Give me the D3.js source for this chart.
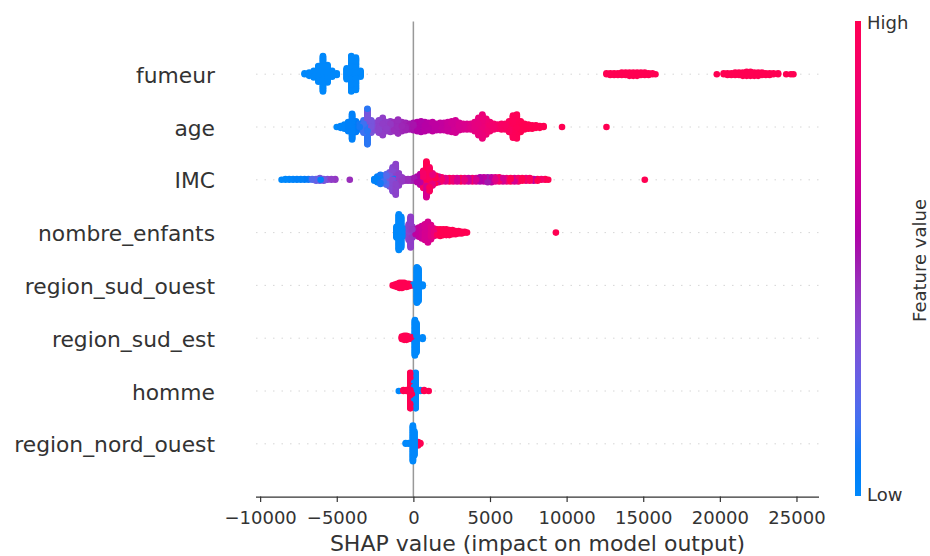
<!DOCTYPE html>
<html>
<head>
<meta charset="utf-8">
<script src="https://cdn.jsdelivr.net/npm/d3@7"></script>
<style>
  html, body { margin: 0; padding: 0; background: #fff; }
  svg { display: block; font-family: "DejaVu Sans", sans-serif; }
</style>
</head>
<body>
<svg id="chart" width="930" height="556"></svg>
<script>
// ---------------- DATA ----------------
// Feature names, top to bottom
const features = ["fumeur", "age", "IMC", "nombre_enfants", "region_sud_ouest", "region_sud_est", "homme", "region_nord_ouest"];

// Each entry: [SHAP value, normalised feature value (0 = low, 1 = high), number of points]
const fumeurPts = [
  [-7100,0,2],[-6800,0,5],[-6500,0,9],[-6200,0,20],[-5900,0,44],[-5600,0,22],[-5300,0,8],[-5000,0,3],
  [-4350,0,14],[-4050,0,44],[-3750,0,40],[-3450,0,8],
  [12600,1,2],[12850,1,3],[13100,1,3],[13350,1,3],[13600,1,4],[13850,1,4],[14100,1,5],[14350,1,5],
  [14600,1,5],[14850,1,4],[15100,1,4],[15350,1,3],[15600,1,2],[15800,1,1],
  [19800,1,1],[20250,1,2],[20500,1,3],[20750,1,3],[21000,1,4],[21250,1,4],[21500,1,5],[21750,1,6],
  [22000,1,6],[22250,1,5],[22500,1,5],[22750,1,4],[23000,1,3],[23250,1,3],[23500,1,2],[23800,1,2],
  [24330,1,1],[24630,1,1],[24800,1,1]
];
const agePts = [
  [-5000,0.0,1],[-4750,0.02,3],[-4500,0.03,6],[-4250,0.05,12],[-4000,0.05,32],[-3750,0.08,14],[-3500,0.1,8],
  [-3250,0.15,16],[-3000,0.12,24],[-3000,0.3,20],[-2750,0.3,16],[-2500,0.35,10],[-2250,0.38,16],[-2000,0.4,22],
  [-1750,0.4,12],[-1500,0.42,14],[-1250,0.45,12],[-1000,0.45,18],[-750,0.47,12],[-500,0.48,10],[-250,0.5,8],
  [0,0.52,10],[250,0.55,12],[500,0.55,14],[750,0.57,12],[1000,0.58,10],[1250,0.6,12],[1500,0.6,9],
  [1750,0.62,10],[2000,0.63,10],[2250,0.65,12],[2500,0.67,14],[2750,0.68,16],[3000,0.7,10],[3250,0.72,8],
  [3500,0.73,8],[3750,0.75,8],[4000,0.78,12],[4250,0.8,22],[4500,0.82,30],[4750,0.85,20],[5000,0.87,12],
  [5250,0.88,8],[5500,0.9,6],[5750,0.92,8],[6000,0.93,8],[6250,0.95,14],[6500,0.97,28],[6750,0.98,30],
  [7000,1,14],[7250,1,8],[7500,1,6],[7750,1,5],[8000,1,4],[8250,1,3],[8500,1,2],[9700,1,1],[12600,1,1]
];
const imcPts = [
  [-8600,0.0,1],[-8350,0.0,2],[-8100,0.02,2],[-7850,0.03,2],[-7600,0.05,2],[-7350,0.05,2],[-7100,0.08,2],
  [-6850,0.1,2],[-6600,0.2,2],[-6350,0.25,3],[-6100,0.3,4],[-6050,0.05,1],[-5850,0.3,3],[-5600,0.35,2],
  [-5350,0.4,2],[-5100,0.42,2],[-4150,0.45,1],
  [-2550,0.05,3],[-2350,0.05,8],[-2150,0.1,12],[-1950,0.15,10],[-1750,0.2,14],[-1550,0.3,18],
  [-1350,0.35,30],[-1250,0.05,6],[-1150,0.38,38],[-950,0.4,16],[-750,0.42,6],[-550,0.45,3],[-350,0.45,3],
  [-150,0.48,3],[50,0.5,4],
  [250,0.55,8],[450,0.6,14],[650,0.9,22],[850,0.7,22],[850,1.0,22],[1050,0.95,30],[1250,0.8,16],
  [1450,1.0,10],[1650,0.7,8],[1850,0.9,6],[2100,0.75,5],[2350,1.0,5],[2600,0.85,5],[2850,0.7,5],
  [3100,1.0,5],[3350,0.8,5],[3600,0.65,5],[3850,0.9,5],[4100,0.7,5],[4350,0.55,6],[4600,0.6,6],
  [4850,0.5,7],[5100,0.6,7],[5350,0.75,6],[5600,0.9,6],[5850,0.7,5],[6100,0.85,5],[6350,1.0,5],
  [6600,0.7,5],[6850,0.9,5],[7100,1.0,4],[7350,0.8,4],[7600,0.95,4],[7850,0.6,3],[8100,1.0,3],
  [8350,0.9,2],[8600,1.0,2],[8800,1.0,1],[15100,1.0,1]
];
const enfantsPts = [
  [-1100,0,14],[-950,0,44],[-800,0,38],[-650,0,10],
  [-300,0.38,20],[-180,0.4,38],[-60,0.42,14],
  [150,0.6,8],[350,0.62,12],[550,0.65,16],[750,0.7,20],[950,0.7,26],[1150,0.75,18],[1350,0.8,10],
  [1550,0.95,8],[1750,1,9],[1950,1,8],[2150,1,8],[2350,1,7],[2550,1,6],[2750,1,5],[2950,1,4],
  [3150,1,3],[3350,1,2],[3500,1,1],[9300,1,1]
];
const sudOuestPts = [
  [-1350,1,1],[-1200,1,3],[-1050,1,5],[-900,1,7],[-750,1,7],[-600,1,6],[-450,1,5],[-300,1,4],[-150,1,2],
  [0,0,2],[230,0,44],[330,0,40],[600,0,3]
];
const sudEstPts = [
  [-750,1,4],[-600,1,6],[-450,1,6],[-300,1,4],[-100,1,3],
  [-150,0,2],[100,0,44],[200,0,36],[600,0,3]
];
const hommePts = [
  [-950,0,1],[50,0,20],[150,0,44],[450,0,2],
  [-650,1,2],[-450,1,2],[-200,1,44],[-100,1,16],[700,1,2],[1000,1,1]
];
const nordOuestPts = [
  [-500,0,2],[-300,0,2],[-30,0,44],[60,0,30],
  [150,1,4],[300,1,5],[450,1,2]
];
const featurePoints = [fumeurPts, agePts, imcPts, enfantsPts, sudOuestPts, sudEstPts, hommePts, nordOuestPts];

const xTicks = [-10000, -5000, 0, 5000, 10000, 15000, 20000, 25000];
const xLabel = "SHAP value (impact on model output)";
const cbarLabels = { high: "High", low: "Low", title: "Feature value" };

// ---------------- COLOUR MAP (shap red_blue, LCH) ----------------
function redBlue(t) {
  t = Math.max(0, Math.min(1, t));
  const L = t < 0.5 ? 54 + (40 - 54) * (t / 0.5) : 40 + (54 - 40) * ((t - 0.5) / 0.5);
  const C = 70 + (90 - 70) * t;
  const H = 266.93 + (380.32 - 266.93) * t;
  return d3.rgb(d3.hcl(H % 360, C, L)).formatHex();
}

// ---------------- LAYOUT ----------------
const svg = d3.select("#chart");
const plot = { left: 256, right: 819, top: 21.4, bottom: 496.6 };

const allShap = featurePoints.flatMap(arr => arr.map(d => d[0]));
const xmin = d3.min(allShap), xmax = d3.max(allShap);
const pad = (xmax - xmin) * 0.05;
const x = d3.scaleLinear().domain([xmin - pad, xmax + pad]).range([plot.left, plot.right]);
const y = d3.scaleLinear().domain([-1, features.length]).range([plot.bottom, plot.top]);

const nF = features.length;
const rowPos = i => nF - 1 - i;

// grid lines
svg.append("g").selectAll("line").data(features).join("line")
  .attr("x1", plot.left).attr("x2", plot.right)
  .attr("y1", (d, i) => y(rowPos(i))).attr("y2", (d, i) => y(rowPos(i)))
  .attr("stroke", "#cccccc").attr("stroke-width", 0.8).attr("stroke-dasharray", "1.5,7");

// zero line
svg.append("line")
  .attr("x1", x(0)).attr("x2", x(0)).attr("y1", plot.top).attr("y2", plot.bottom)
  .attr("stroke", "#999999").attr("stroke-width", 1.5);

// beeswarm points
const rowHeight = 0.4;
const dotsG = svg.append("g");
for (let fi = nF - 1; fi >= 0; fi--) {
  const entries = featurePoints[fi];
  const groups = d3.group(entries, d => d[0]);
  const pts = [];
  for (const [s, ents] of groups) {
    const queues = ents.map(e => ({ fv: e[1], left: e[2] }));
    let layer = 0, remaining = d3.sum(queues, q => q.left);
    while (remaining > 0) {
      for (const q of queues) {
        if (q.left > 0) {
          const ys = Math.ceil(layer / 2) * ((layer % 2) * 2 - 1);
          pts.push({ s, fv: q.fv, ys });
          q.left--; remaining--; layer++;
        }
      }
    }
  }
  const maxY = d3.max(pts, p => p.ys) + 1;
  const k = 0.9 * (rowHeight / maxY);
  const pos = rowPos(fi);
  const order = pts.map((p, i) => ({ p, key: (i * 7919) % pts.length }));
  order.sort((a, b) => a.key - b.key);
  dotsG.append("g").selectAll("circle").data(order.map(o => o.p)).join("circle")
    .attr("cx", p => x(p.s))
    .attr("cy", p => y(pos + p.ys * k))
    .attr("r", 3.3)
    .attr("fill", p => redBlue(p.fv));
}

// y labels
svg.append("g").selectAll("text").data(features).join("text")
  .attr("x", 215).attr("y", (d, i) => y(rowPos(i)) + 1)
  .attr("text-anchor", "end").attr("dominant-baseline", "central")
  .attr("font-size", 21.8).attr("fill", "#333333")
  .text(d => d);

// x axis
const xAxis = d3.axisBottom(x).tickValues(xTicks).tickSize(5.5).tickPadding(9).tickFormat(d3.format("d"));
const ax = svg.append("g").attr("transform", `translate(0,${plot.bottom})`).call(xAxis);
ax.select(".domain").attr("d", `M${plot.left},0.5H${plot.right}`).attr("stroke", "#333333").attr("stroke-width", 1.2);
ax.selectAll(".tick line").attr("stroke", "#333333").attr("stroke-width", 1.2);
ax.selectAll(".tick text").attr("font-size", 18).attr("fill", "#333333")
  .attr("font-family", "DejaVu Sans, sans-serif")
  .text(d => d < 0 ? "\u2212" + Math.abs(d) : String(d));

svg.append("text")
  .attr("x", (plot.left + plot.right) / 2).attr("y", 551)
  .attr("text-anchor", "middle").attr("font-size", 22).attr("fill", "#333333")
  .text(xLabel);

// colour bar
const defs = svg.append("defs");
const grad = defs.append("linearGradient").attr("id", "cbar").attr("x1", 0).attr("x2", 0).attr("y1", 1).attr("y2", 0);
grad.selectAll("stop").data(d3.range(0, 1.0001, 0.05)).join("stop")
  .attr("offset", d => d).attr("stop-color", d => redBlue(d));
const cb = { x: 855, w: 6, top: 21, bottom: 496 };
svg.append("rect").attr("x", cb.x).attr("y", cb.top).attr("width", cb.w).attr("height", cb.bottom - cb.top)
  .attr("fill", "url(#cbar)");
svg.append("text").attr("x", 867).attr("y", cb.top + 1).attr("dominant-baseline", "central")
  .attr("font-size", 18).attr("fill", "#333333").text(cbarLabels.high);
svg.append("text").attr("x", 867).attr("y", cb.bottom - 2).attr("dominant-baseline", "central")
  .attr("font-size", 18).attr("fill", "#333333").text(cbarLabels.low);
svg.append("text").attr("transform", `translate(919,${(cb.top + cb.bottom) / 2 + 2}) rotate(-90)`)
  .attr("text-anchor", "middle").attr("dominant-baseline", "central")
  .attr("font-size", 18).attr("fill", "#333333").text(cbarLabels.title);
</script>
</body>
</html>
